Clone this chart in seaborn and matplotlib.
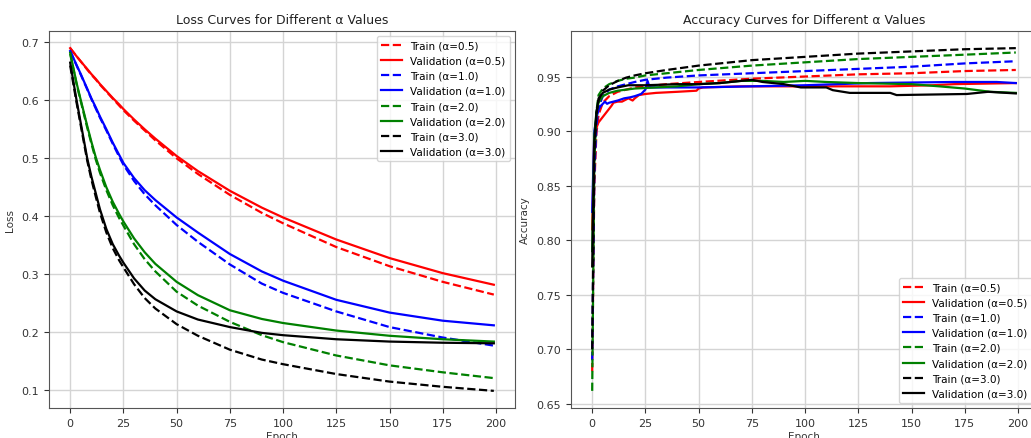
import matplotlib
matplotlib.use("Agg")
import matplotlib.pyplot as plt
import seaborn as sns

# loss curves, sampled at these epochs
loss_epochs = [0, 3, 5, 8, 10, 12, 14, 17, 20, 23, 25, 30, 35, 40, 50, 60, 75, 90, 100, 125, 150, 175, 199]

train_loss_05 = [0.690, 0.676, 0.667, 0.653, 0.644, 0.636, 0.627, 0.615, 0.603, 0.591, 0.583, 0.565, 0.548, 0.531,
                 0.500, 0.473, 0.437, 0.406, 0.388, 0.347, 0.314, 0.287, 0.265]
val_loss_05 = [0.690, 0.676, 0.667, 0.654, 0.645, 0.637, 0.628, 0.616, 0.604, 0.593, 0.585, 0.567, 0.550, 0.534,
               0.504, 0.478, 0.444, 0.415, 0.398, 0.360, 0.328, 0.302, 0.282]
train_loss_10 = [0.685, 0.660, 0.644, 0.619, 0.602, 0.586, 0.570, 0.548, 0.525, 0.503, 0.489, 0.461, 0.438, 0.419,
                 0.385, 0.356, 0.317, 0.284, 0.268, 0.236, 0.209, 0.191, 0.177]
val_loss_10 = [0.685, 0.661, 0.645, 0.620, 0.603, 0.588, 0.572, 0.550, 0.527, 0.506, 0.492, 0.466, 0.445, 0.428,
               0.398, 0.372, 0.335, 0.305, 0.289, 0.256, 0.234, 0.220, 0.212]
train_loss_20 = [0.680, 0.628, 0.598, 0.553, 0.525, 0.498, 0.475, 0.445, 0.419, 0.397, 0.384, 0.352, 0.326, 0.305,
                 0.270, 0.246, 0.218, 0.195, 0.183, 0.160, 0.143, 0.131, 0.121]
val_loss_20 = [0.682, 0.630, 0.600, 0.556, 0.528, 0.502, 0.480, 0.450, 0.425, 0.404, 0.391, 0.362, 0.338, 0.318,
               0.287, 0.264, 0.238, 0.223, 0.216, 0.203, 0.194, 0.188, 0.184]
train_loss_30 = [0.660, 0.596, 0.556, 0.496, 0.463, 0.434, 0.406, 0.372, 0.345, 0.324, 0.312, 0.283, 0.259, 0.241,
                 0.214, 0.194, 0.170, 0.153, 0.145, 0.128, 0.115, 0.106, 0.099]
val_loss_30 = [0.665, 0.600, 0.560, 0.500, 0.468, 0.440, 0.412, 0.378, 0.352, 0.332, 0.320, 0.293, 0.272, 0.257,
               0.236, 0.222, 0.209, 0.199, 0.195, 0.188, 0.184, 0.182, 0.181]

# accuracy curves
train_acc_epochs = [0, 1, 2, 3, 5, 8, 12, 16, 20, 25, 35, 50, 75, 100, 125, 150, 175, 199]
train_acc_05 = [0.680, 0.850, 0.898, 0.915, 0.926, 0.932, 0.936, 0.938, 0.940, 0.941, 0.943, 0.945, 0.948, 0.950,
                0.952, 0.953, 0.955, 0.956]
train_acc_10 = [0.690, 0.860, 0.905, 0.922, 0.932, 0.938, 0.941, 0.943, 0.945, 0.947, 0.949, 0.951, 0.953, 0.955,
                0.957, 0.959, 0.962, 0.964]
train_acc_20 = [0.662, 0.870, 0.918, 0.933, 0.939, 0.943, 0.946, 0.948, 0.949, 0.951, 0.953, 0.956, 0.960, 0.963,
                0.966, 0.968, 0.970, 0.972]
train_acc_30 = [0.700, 0.880, 0.915, 0.928, 0.937, 0.942, 0.946, 0.949, 0.951, 0.953, 0.956, 0.960, 0.965, 0.968,
                0.971, 0.973, 0.975, 0.976]

val_acc_05_epochs = [0, 1, 2, 3, 5, 7, 9, 10, 12, 14, 16, 17, 19, 20, 22, 25, 30, 40, 49, 50, 52, 70, 100, 140,
                     160, 170, 199]
val_acc_05 = [0.810, 0.897, 0.903, 0.908, 0.913, 0.918, 0.923, 0.926, 0.927, 0.927, 0.929, 0.930, 0.928, 0.930,
              0.933, 0.934, 0.935, 0.936, 0.937, 0.939, 0.940, 0.941, 0.941, 0.941, 0.942, 0.943, 0.944]
val_acc_10_epochs = [0, 1, 2, 3, 4, 6, 7, 8, 10, 12, 15, 18, 20, 23, 25, 26, 27, 30, 50, 75, 100, 130, 170, 190, 199]
val_acc_10 = [0.826, 0.900, 0.912, 0.920, 0.923, 0.927, 0.925, 0.926, 0.927, 0.928, 0.930, 0.931, 0.932, 0.934,
              0.938, 0.946, 0.940, 0.940, 0.940, 0.941, 0.942, 0.944, 0.945, 0.945, 0.944]
val_acc_20_epochs = [0, 1, 2, 3, 5, 8, 12, 20, 30, 40, 50, 60, 70, 80, 90, 100, 110, 125, 150, 163, 175, 187, 199]
val_acc_20 = [0.790, 0.895, 0.918, 0.926, 0.932, 0.935, 0.937, 0.939, 0.940, 0.941, 0.943, 0.944, 0.946, 0.946,
              0.945, 0.946, 0.945, 0.944, 0.943, 0.941, 0.939, 0.936, 0.935]
val_acc_30_epochs = [0, 1, 2, 3, 5, 8, 12, 17, 25, 40, 50, 60, 70, 75, 80, 90, 98, 110, 113, 121, 140, 143, 176,
                     186, 199]
val_acc_30 = [0.776, 0.890, 0.917, 0.930, 0.935, 0.938, 0.940, 0.942, 0.942, 0.943, 0.943, 0.944, 0.946, 0.947,
              0.945, 0.943, 0.940, 0.940, 0.9375, 0.935, 0.935, 0.933, 0.934, 0.936, 0.9345]

alphas = ["0.5", "1.0", "2.0", "3.0"]
colors = ["red", "blue", "green", "black"]

loss_train = [train_loss_05, train_loss_10, train_loss_20, train_loss_30]
loss_val = [val_loss_05, val_loss_10, val_loss_20, val_loss_30]
acc_train = [train_acc_05, train_acc_10, train_acc_20, train_acc_30]
acc_val = [val_acc_05, val_acc_10, val_acc_20, val_acc_30]
acc_val_epochs = [val_acc_05_epochs, val_acc_10_epochs, val_acc_20_epochs, val_acc_30_epochs]

fig = plt.figure(figsize=(10.31, 4.39), dpi=100)
ax1 = fig.add_axes([49 / 1031, 30 / 439, 466 / 1031, 377 / 439])
ax2 = fig.add_axes([571 / 1031, 30 / 439, 466 / 1031, 377 / 439])

lw = 1.6
for a, c, tr, va in zip(alphas, colors, loss_train, loss_val):
    sns.lineplot(x=loss_epochs, y=tr, ax=ax1, color=c, linestyle="--", linewidth=lw, label="Train (α={})".format(a))
    sns.lineplot(x=loss_epochs, y=va, ax=ax1, color=c, linestyle="-", linewidth=lw,
                 label="Validation (α={})".format(a))

for a, c, tr, ep, va in zip(alphas, colors, acc_train, acc_val_epochs, acc_val):
    sns.lineplot(x=train_acc_epochs, y=tr, ax=ax2, color=c, linestyle="--", linewidth=lw,
                 label="Train (α={})".format(a))
    sns.lineplot(x=ep, y=va, ax=ax2, color=c, linestyle="-", linewidth=lw, label="Validation (α={})".format(a))

fs_tick = 8
for ax, title, ylabel, loc in [
    (ax1, "Loss Curves for Different α Values", "Loss", "upper right"),
    (ax2, "Accuracy Curves for Different α Values", "Accuracy", "lower right"),
]:
    ax.set_title(title, fontsize=9, color="#222222")
    ax.set_xlabel("Epoch", fontsize=7.5, color="#333333", labelpad=2)
    ax.set_ylabel(ylabel, fontsize=7.5, color="#333333")
    ax.tick_params(labelsize=fs_tick, colors="#333333", pad=4)
    ax.set_xticks([0, 25, 50, 75, 100, 125, 150, 175, 200])
    ax.grid(True, color="#d4d4d4", linewidth=1.0)
    ax.legend(loc=loc, fontsize=7.5)
    for sp in ax.spines.values():
        sp.set_color("#555555")

ax1.set_xlim(-9.95, 208.95)
ax2.set_xlim(-9.95, 208.95)

fig.savefig("out.png", dpi=100)
